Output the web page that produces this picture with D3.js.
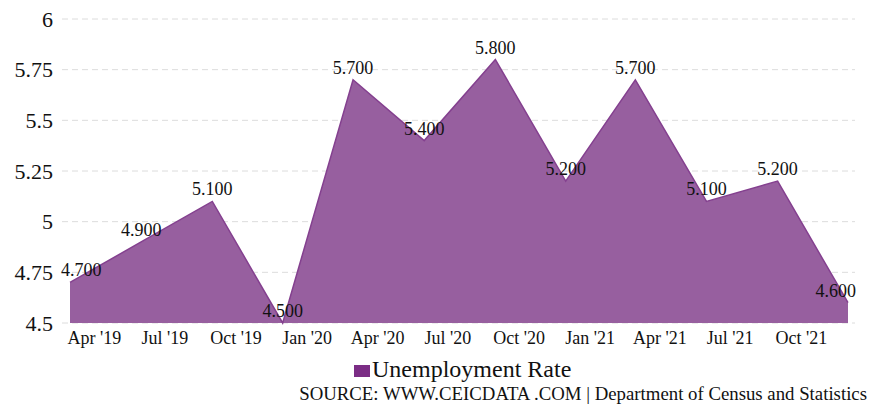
<!DOCTYPE html>
<html>
<head>
<meta charset="utf-8">
<script src="https://cdn.jsdelivr.net/npm/d3@7"></script>
<style>
  body { margin: 0; background: #fff; }
  text { font-family: "Liberation Serif", "Times New Roman", serif; fill: #111; }
</style>
</head>
<body>
<div id="chart"></div>
<script>
// quarterly observations (1st of month)
const periods = ["2019-03-01", "2019-06-01", "2019-09-01", "2019-12-01",
  "2020-03-01", "2020-06-01", "2020-09-01", "2020-12-01",
  "2021-03-01", "2021-06-01", "2021-09-01", "2021-12-01"];
const rates = [4.7, 4.9, 5.1, 4.5, 5.7, 5.4, 5.8, 5.2, 5.7, 5.1, 5.2, 4.6];
const yTicks = [4.5, 4.75, 5, 5.25, 5.5, 5.75, 6];
const seriesName = "Unemployment Rate";
const sourceText = "SOURCE: WWW.CEICDATA .COM | Department of Census and Statistics";

const width = 874, height = 405;
const parse = d3.timeParse("%Y-%m-%d");
const data = periods.map((p, i) => ({date: parse(p), value: rates[i]}));

const fillColor = "#975f9f";
const lineColor = "#84408f";

// scales
const x = d3.scaleTime()
  .domain(d3.extent(data, d => d.date))
  .range([70, 848]);
const y = d3.scaleLinear()
  .domain([4.5, 6])
  .range([323, 19]);

const svg = d3.select("#chart")
  .append("svg")
  .attr("width", width)
  .attr("height", height);

// gridlines
svg.append("g")
  .selectAll("line")
  .data(yTicks)
  .join("line")
  .attr("x1", 62)
  .attr("x2", 855)
  .attr("y1", d => y(d))
  .attr("y2", d => y(d))
  .attr("stroke", "#dcdcdc")
  .attr("stroke-dasharray", "6,4");

// y axis labels
const yAxis = svg.append("g")
  .attr("transform", "translate(62,0)")
  .call(d3.axisLeft(y).tickValues(yTicks).tickSize(0).tickPadding(9).tickFormat(d3.format("")));
yAxis.select(".domain").remove();
yAxis.selectAll("text")
  .style("font-size", "22px")
  .attr("dy", "0.32em");

// area + line
svg.append("path")
  .datum(data)
  .attr("fill", fillColor)
  .attr("d", d3.area().x(d => x(d.date)).y0(y(4.5)).y1(d => y(d.value)));

svg.append("path")
  .datum(data)
  .attr("fill", "none")
  .attr("stroke", lineColor)
  .attr("stroke-width", 1.5)
  .attr("d", d3.line().x(d => x(d.date)).y(d => y(d.value)));

// x axis
const xAxis = svg.append("g")
  .attr("transform", "translate(0,323)")
  .call(d3.axisBottom(x)
    .ticks(d3.timeMonth.every(3))
    .tickSize(0)
    .tickPadding(8)
    .tickFormat(d3.timeFormat("%b '%y")));
xAxis.select(".domain").remove();
xAxis.selectAll("text")
  .style("font-size", "18px")
  .attr("dy", "0.71em");

// value labels, kept inside the plot
const labels = svg.append("g")
  .selectAll("text")
  .data(data)
  .join("text")
  .style("font-size", "18px")
  .attr("text-anchor", "middle")
  .attr("y", d => y(d.value) - 6)
  .text(d => d3.format(".3f")(d.value));
labels.each(function(d) {
  const w = this.getComputedTextLength();
  const cx = Math.max(61 + w / 2, Math.min(856 - w / 2, x(d.date)));
  d3.select(this).attr("x", cx);
});

// legend
const legend = svg.append("g");
legend.append("rect")
  .attr("x", 354)
  .attr("y", 365)
  .attr("width", 16)
  .attr("height", 12)
  .attr("fill", "#7b2d85");
legend.append("text")
  .attr("x", 372)
  .attr("y", 377)
  .style("font-size", "24px")
  .text(seriesName);

// source
svg.append("text")
  .attr("x", 867)
  .attr("y", 400)
  .attr("text-anchor", "end")
  .style("font-size", "18.8px")
  .text(sourceText);
</script>
</body>
</html>
